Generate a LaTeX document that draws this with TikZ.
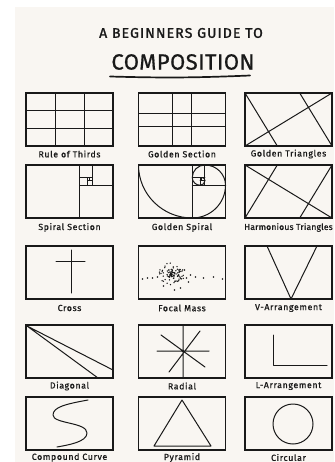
\documentclass[tikz,border=0pt]{standalone}
\usepackage{fontspec}
\setmainfont{Fira Sans}
\newfontfamily\labfont[LetterSpace=7,FakeBold=0.6]{Fira Sans}
\newfontfamily\labnarrow[LetterSpace=2,FakeBold=0.6]{Fira Sans}
\newfontfamily\ttlfont[LetterSpace=8,FakeBold=1.5]{Fira Sans}
\newfontfamily\bigfont[LetterSpace=2,FakeBold=0.8]{Fira Sans}
\definecolor{bgc}{RGB}{249,246,242}
\definecolor{ink}{RGB}{25,25,25}
\tikzset{
  panel/.style={draw=ink, line width=1.7pt, minimum width=87pt, minimum height=53pt,
    inner sep=0pt, outer sep=0pt, anchor=north west},
  lab/.style={font=\labfont\fontsize{8.8}{9}\selectfont, text=ink, inner sep=0pt},
  art/.style={draw=ink, line width=1pt, line cap=round, line join=round},
  dot/.style={fill=ink},
}
\begin{document}
\begin{tikzpicture}[x=1pt,y=-1pt]
\useasboundingbox (0,0) rectangle (334,462);
\fill[white] (0,0) rectangle (334,462);
\fill[bgc] (15,7) rectangle (334,462);

% title
\node[font=\ttlfont\fontsize{14}{16}\selectfont, text=ink, inner sep=0pt] (title1) at (181,33) {A BEGINNERS GUIDE TO};
\node[font=\bigfont\fontsize{22}{24}\selectfont, text=ink, inner sep=0pt] (title2) at (183,62) {COMPOSITION};
\coordinate (ul1) at (110,76.5);
\coordinate (ul2) at (250,75.5);
\draw[ink, line width=1.7pt, line cap=round] (ul1) to[bend right=2] (ul2);

% panels
\node[panel] (thirds)  at (26,93) {};
\node[panel] (gsect)   at (138.5,93) {};
\node[panel] (gtri)    at (245,93) {};
\node[panel] (spsect)  at (26,165) {};
\node[panel] (gspiral) at (138.5,165) {};
\node[panel] (htri)    at (245,165) {};
\node[panel] (cross)   at (26,246) {};
\node[panel] (focal)   at (138.5,246) {};
\node[panel] (varr)    at (245,246) {};
\node[panel] (diag)    at (26,325) {};
\node[panel] (radial)  at (138.5,325) {};
\node[panel] (larr)    at (245,325) {};
\node[panel] (ccurve)  at (26,397) {};
\node[panel] (pyr)     at (138.5,397) {};
\node[panel] (circ)    at (245,397) {};

% labels
\node[lab] at ([yshift=-8pt]thirds.south)   {Rule of Thirds};
\node[lab] at ([yshift=-8pt]gsect.south)    {Golden Section};
\node[lab] at ([yshift=-8pt]gtri.south)     {Golden Triangles};
\node[lab] at ([yshift=-9.5pt]spsect.south) {Spiral Section};
\node[lab] at ([yshift=-9.5pt]gspiral.south){Golden Spiral};
\node[lab, font=\labnarrow\fontsize{8.6}{9}\selectfont] at ([yshift=-9.5pt]htri.south) {Harmonious Triangles};
\node[lab] at ([yshift=-9pt]cross.south)    {Cross};
\node[lab] at ([yshift=-9pt]focal.south)    {Focal Mass};
\node[lab] at ([yshift=-9pt]varr.south)     {V-Arrangement};
\node[lab] at ([yshift=-8pt]diag.south)     {Diagonal};
\node[lab] at ([yshift=-8pt]radial.south)   {Radial};
\node[lab] at ([yshift=-8pt]larr.south)     {L-Arrangement};
\node[lab] at ([yshift=-7.5pt]ccurve.south) {Compound Curve};
\node[lab] at ([yshift=-7.5pt]pyr.south)    {Pyramid};
\node[lab] at ([yshift=-7.5pt]circ.south)   {Circular};

% Rule of thirds
\begin{scope}[shift={(thirds.north west)}]
  \draw[art] (29,0) -- (29,53) (58,0) -- (58,53) (0,17.7) -- (87,17.7) (0,35.3) -- (87,35.3);
\end{scope}
% Golden section
\begin{scope}[shift={(gsect.north west)}]
  \draw[art] (34,0) -- (34,53) (53,0) -- (53,53) (0,21) -- (87,21) (0,33.5) -- (87,33.5);
\end{scope}
% Golden triangles
\begin{scope}[shift={(gtri.north west)}]
  \draw[art] (0,53) -- (87,0) (0,0) -- (32.3,53) (87,53) -- (54.7,0);
\end{scope}
% Harmonious triangles
\begin{scope}[shift={(htri.north west)}]
  \draw[art] (0,0) -- (87,53) (0,53) -- (32.3,0) (87,0) -- (54.7,53);
\end{scope}
% Spiral section
\begin{scope}[shift={(spsect.north west)}, xscale=1.0145]
  \draw[art] (53,0) -- (53,53) (53,20.24) -- (85.76,20.24) (65.51,0) -- (65.51,20.24)
    (53,12.51) -- (65.51,12.51) (60.78,12.51) -- (60.78,20.24) (60.78,15.46) -- (65.51,15.46)
    (62.56,12.51) -- (62.56,15.46);
\end{scope}
% Golden spiral
\begin{scope}[shift={(gspiral.north west)}, xscale=1.0145]
  \draw[art] (53,0) -- (53,53) (53,20.24) -- (85.76,20.24) (65.51,0) -- (65.51,20.24)
    (53,12.51) -- (65.51,12.51) (60.78,12.51) -- (60.78,20.24) (60.78,15.46) -- (65.51,15.46)
    (62.56,12.51) -- (62.56,15.46);
  \draw[art] (0,0) .. controls (0,29.27) and (23.73,53) .. (53,53)
    .. controls (71.09,53) and (85.76,38.33) .. (85.76,20.24)
    .. controls (85.76,9.06) and (76.69,0) .. (65.51,0)
    .. controls (58.6,0) and (53,5.6) .. (53,12.51)
    .. controls (53,16.78) and (56.51,20.24) .. (60.78,20.24)
    .. controls (63.42,20.24) and (65.51,18.1) .. (65.51,15.46)
    .. controls (65.51,13.83) and (64.19,12.51) .. (62.56,12.51);
\end{scope}
% Cross
\begin{scope}[shift={(cross.north west)}]
  \draw[art] (45,4) -- (45,47) (30,15) -- (59,15);
\end{scope}
% Focal mass
\begin{scope}[shift={(focal.north west)}]
  \pgfmathsetseed{17}
  \foreach \i in {1,...,95} {
    \pgfmathsetmacro\rr{rnd}
    \pgfmathsetmacro\aa{360*rnd}
    \fill[dot] ({32+14*\rr*cos(\aa)},{28+11*\rr*sin(\aa)}) circle[radius=0.75pt];
  }
  \foreach \p in {(4,33),(9,32),(14,32),(19,31),(48,32),(57,31),(65,32),(75,31),(84,33),(42,42),(25,40),(50,36),(36,44),(46,24),(52,29)}
    \fill[dot] \p circle[radius=0.8pt];
\end{scope}
% V-arrangement
\begin{scope}[shift={(varr.north west)}]
  \draw[art] (22,0) -- (46,53) -- (72,0);
\end{scope}
% Diagonal
\begin{scope}[shift={(diag.north west)}]
  \draw[art] (1,1) -- (87,45) (1,1) -- (72,53);
\end{scope}
% Radial
\begin{scope}[shift={(radial.north west)}]
  \draw[art] (18.5,26) -- (70.5,26) (44.5,0) -- (44.5,53) (22.5,10) -- (66.5,42) (61.5,6) -- (30.5,47);
  \fill[dot] (44.5,26) circle[radius=1.4pt];
\end{scope}
% L-arrangement
\begin{scope}[shift={(larr.north west)}]
  \draw[art] (28,10) -- (28,40) -- (82,40);
\end{scope}
% Compound curve
\begin{scope}[shift={(ccurve.north west)}]
  \draw[art] (62,3) .. controls (40,7) and (27,10) .. (27,18)
    .. controls (27,27) and (61,25) .. (61,36)
    .. controls (61,45) and (42,48) .. (31,50);
\end{scope}
% Pyramid
\begin{scope}[shift={(pyr.north west)}]
  \draw[art] (43.5,3) -- (15.5,49) -- (72.5,49) -- cycle;
\end{scope}
% Circular
\begin{scope}[shift={(circ.north west)}]
  \draw[art] (48,27) circle[radius=20pt];
\end{scope}
\end{tikzpicture}
\end{document}
